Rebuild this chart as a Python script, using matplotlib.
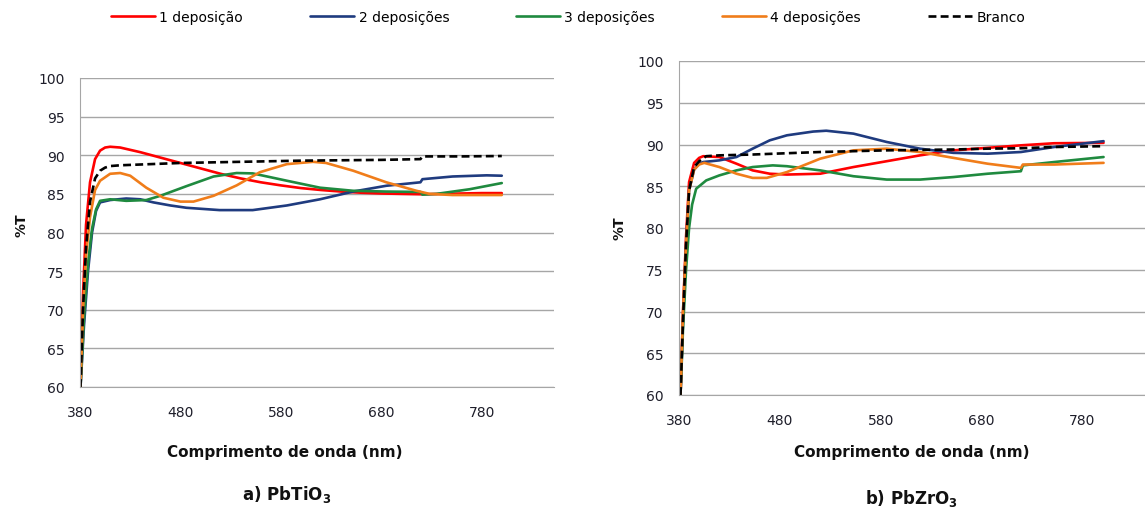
import numpy as np
import matplotlib
matplotlib.use('Agg')
import matplotlib.pyplot as plt

# ---- a) PbTiO3 ----
a_x_branco = [380.5, 383, 386, 390, 395, 400, 405, 410, 420, 440, 460, 480, 520, 560, 600, 640, 680, 719, 721, 760, 800]
a_branco = [60, 70, 78, 84, 87, 88.0, 88.4, 88.6, 88.7, 88.8, 88.9, 89.0, 89.1, 89.2, 89.3, 89.35, 89.4, 89.5, 89.85, 89.85, 89.9]

a_x1 = [380.5, 383, 386, 390, 395, 400, 405, 410, 420, 430, 440, 460, 480, 500, 520, 540, 560, 580, 600, 620, 640, 660, 680, 700, 720, 740, 760, 780, 800]
a_dep1 = [60, 72, 81, 86.5, 89.5, 90.6, 91.0, 91.1, 91.0, 90.7, 90.4, 89.7, 89.0, 88.3, 87.6, 87.0, 86.5, 86.1, 85.75, 85.5, 85.3, 85.15, 85.05, 85.0, 84.95, 85.0, 85.05, 85.1, 85.1]

a_x2 = [380.5, 384, 388, 392, 396, 400, 410, 426, 440, 453, 470, 486, 519, 552, 586, 619, 652, 685, 719, 721, 751, 785, 800]
a_dep2 = [60, 68, 75, 80, 82.8, 83.9, 84.2, 84.4, 84.3, 83.9, 83.5, 83.2, 82.9, 82.9, 83.5, 84.3, 85.3, 86.05, 86.5, 86.9, 87.25, 87.4, 87.35]

a_x3 = [380.5, 384, 388, 392, 396, 400, 410, 426, 446, 460, 486, 513, 536, 552, 586, 619, 652, 685, 719, 721, 735, 768, 800]
a_dep3 = [60, 69, 76, 80.5, 83.0, 84.1, 84.3, 84.1, 84.2, 84.75, 86.0, 87.25, 87.7, 87.65, 86.7, 85.8, 85.4, 85.3, 85.25, 84.9, 85.0, 85.6, 86.4]

a_x4 = [380.5, 383, 386, 390, 395, 400, 410, 420, 430, 446, 463, 480, 493, 513, 536, 559, 586, 612, 625, 652, 685, 715, 728, 751, 800]
a_dep4 = [60, 70, 77, 82, 85.5, 86.7, 87.6, 87.7, 87.35, 85.8, 84.5, 84.0, 84.0, 84.75, 86.1, 87.8, 88.85, 89.15, 89.0, 88.0, 86.5, 85.4, 85.0, 84.85, 84.85]

# ---- b) PbZrO3 ----
b_x_branco = [381.5, 384, 387, 390, 395, 400, 407, 420, 453, 486, 520, 553, 586, 619, 652, 685, 719, 752, 801]
b_branco = [60, 69, 78, 84.5, 87.3, 88.0, 88.6, 88.7, 88.8, 88.95, 89.1, 89.2, 89.3, 89.35, 89.4, 89.5, 89.55, 89.7, 89.8]

b_x1 = [381.5, 384, 387, 390, 395, 400, 404, 420, 437, 453, 470, 487, 520, 553, 586, 619, 652, 686, 719, 752, 801]
b_dep1 = [60, 70, 79, 85.5, 87.8, 88.4, 88.6, 88.5, 87.7, 86.9, 86.5, 86.4, 86.5, 87.3, 88.0, 88.7, 89.3, 89.6, 89.9, 90.15, 90.2]

b_x2 = [381.5, 384, 387, 390, 395, 400, 404, 420, 437, 453, 470, 487, 513, 526, 553, 586, 619, 652, 686, 719, 752, 801]
b_dep2 = [60, 69, 78, 84.5, 87.0, 87.7, 87.9, 88.1, 88.5, 89.5, 90.5, 91.1, 91.55, 91.65, 91.3, 90.3, 89.5, 89.0, 88.9, 89.1, 89.7, 90.4]

b_x3 = [381.5, 384, 387, 390, 393, 397, 407, 420, 437, 453, 473, 487, 520, 553, 586, 619, 652, 686, 719, 721, 752, 801]
b_dep3 = [60, 68, 75, 80, 82.8, 84.7, 85.7, 86.3, 86.9, 87.3, 87.5, 87.4, 86.9, 86.2, 85.8, 85.8, 86.1, 86.5, 86.8, 87.5, 87.9, 88.5]

b_x4 = [381.5, 384, 387, 390, 395, 400, 405, 420, 437, 453, 467, 487, 520, 553, 586, 619, 652, 686, 719, 721, 752, 801]
b_dep4 = [60, 70, 78, 84.5, 87.0, 87.6, 87.8, 87.3, 86.5, 86.0, 86.0, 86.7, 88.3, 89.3, 89.5, 89.1, 88.4, 87.7, 87.2, 87.6, 87.6, 87.8]

labels = ['1 deposição', '2 deposições', '3 deposições', '4 deposições', 'Branco']
colors = ['#ff0000', '#1f3b7f', '#1f8a3f', '#f07d1a', 'black']

grid_c = '#a6a6a6'
tick_c = '#1e1e2a'

fig = plt.figure(figsize=(11.45, 5.1), dpi=100)
ax1 = fig.add_axes([80/1145, 1-388/510, 474/1145, 309/510])
ax2 = fig.add_axes([679/1145, 1-396/510, 476/1145, 334/510])

def draw(ax, series, branco_x, branco_y, xpad, ypad):
    for (xs, ys), lab, c in zip(series, labels[:4], colors[:4]):
        ax.plot(xs, ys, color=c, lw=1.9, label=lab, solid_capstyle='round')
    ax.plot(branco_x, branco_y, color='black', lw=1.9, ls=(0, (3, 1.6)), label='Branco')
    ax.set_xlim(380, 852)
    ax.set_ylim(60, 100)
    ax.set_xticks([380, 480, 580, 680, 780])
    ax.set_yticks(np.arange(60, 101, 5))
    ax.grid(True, axis='y', color=grid_c, lw=1)
    ax.set_axisbelow(True)
    for s in ['top', 'right']:
        ax.spines[s].set_visible(False)
    ax.spines['left'].set_color(grid_c)
    ax.spines['bottom'].set_color(grid_c)
    ax.tick_params(length=0, labelsize=10, colors=tick_c)
    ax.tick_params(axis='x', pad=xpad)
    ax.tick_params(axis='y', pad=ypad)

draw(ax1, [(a_x1, a_dep1), (a_x2, a_dep2), (a_x3, a_dep3), (a_x4, a_dep4)], a_x_branco, a_branco, 13, 11)
draw(ax2, [(b_x1, b_dep1), (b_x2, b_dep2), (b_x3, b_dep3), (b_x4, b_dep4)], b_x_branco, b_branco, 13, 11)

# axis labels and subtitles
fig.text(285/1145, 1-453/510, 'Comprimento de onda (nm)', ha='center', va='center', fontsize=11, fontweight='bold', color='#111111')
fig.text(912/1145, 1-453/510, 'Comprimento de onda (nm)', ha='center', va='center', fontsize=11, fontweight='bold', color='#111111')
fig.text(22/1145, 1-225/510, '%T', rotation=90, ha='center', va='center', fontsize=10, fontweight='bold', color='#111111')
fig.text(620/1145, 1-228/510, '%T', rotation=90, ha='center', va='center', fontsize=10, fontweight='bold', color='#111111')
fig.text(287/1145, 1-495/510, r'a) PbTiO$_\mathbf{3}$', ha='center', va='center', fontsize=12, fontweight='bold', color='#111111')
fig.text(912/1145, 1-499/510, r'b) PbZrO$_\mathbf{3}$', ha='center', va='center', fontsize=12, fontweight='bold', color='#111111')

handles, labs = ax1.get_legend_handles_labels()
fig.legend(handles, labs, loc='center', bbox_to_anchor=(568/1145, 1-18/510), ncol=5, frameon=False,
           fontsize=10, handlelength=3.2, handletextpad=0.3, columnspacing=4.8)

plt.savefig('out.png', dpi=100)
